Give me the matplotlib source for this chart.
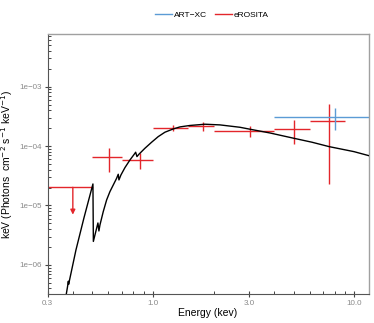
import numpy as np
import matplotlib
matplotlib.use("Agg")
import matplotlib.pyplot as plt
from matplotlib.lines import Line2D

plt.rcParams['font.family'] = ['Liberation Sans', 'DejaVu Sans']

# model curve
model_e = [0.371, 0.3765, 0.3800, 0.3812, 0.4145, 0.4542, 0.5034, 0.5058, 0.533, 0.539,
           0.5455, 0.5664, 0.5888, 0.6114, 0.6351, 0.6601, 0.6724, 0.6778, 0.6934, 0.7258,
           0.7687, 0.8074, 0.8206, 0.8328, 0.8519, 0.9125, 0.985, 1.062, 1.147, 1.261,
           1.362, 1.527, 1.813, 2.152, 2.705, 3.033, 3.813, 5.017, 6.165, 7.51, 9.97, 11.97]
model_f = [3.2e-7, 4.3e-7, 5.3e-7, 4.7e-7, 1.78e-6, 6.17e-6, 2.30e-5, 2.48e-6, 5.07e-6, 3.72e-6,
           4.70e-6, 7.87e-6, 1.24e-5, 1.71e-5, 2.21e-5, 2.87e-5, 3.35e-5, 2.69e-5, 3.26e-5, 4.33e-5,
           5.83e-5, 7.28e-5, 7.87e-5, 6.64e-5, 7.28e-5, 9.18e-5, 1.16e-4, 1.44e-4, 1.71e-4, 1.94e-4,
           2.10e-4, 2.22e-4, 2.33e-4, 2.27e-4, 2.07e-4, 1.92e-4, 1.66e-4, 1.35e-4, 1.16e-4, 9.77e-5,
           8.05e-5, 6.81e-5]

# eROSITA points
ero_e = [0.607, 0.862, 1.253, 1.766, 3.03, 5.02, 7.51]
ero_elo = [0.50, 0.70, 1.00, 1.50, 2.00, 4.00, 6.00]
ero_ehi = [0.70, 1.00, 1.50, 2.00, 4.00, 6.00, 9.00]
ero_f = [6.47e-5, 5.83e-5, 2.04e-4, 2.20e-4, 1.80e-4, 1.94e-4, 2.65e-4]
ero_flo = [3.7e-5, 4.07e-5, 1.80e-4, 1.82e-4, 1.44e-4, 1.07e-4, 2.27e-5]
ero_fhi = [9.2e-5, 7.65e-5, 2.26e-4, 2.52e-4, 2.15e-4, 2.75e-4, 5.06e-4]

# eROSITA upper limit
ul_e, ul_elo, ul_ehi = 0.4, 0.3, 0.5
ul_f, ul_tip = 2.02e-5, 7.0e-6

# ART-XC point
art_e, art_elo, art_ehi = [8.0], [4.0], [16.0]
art_f, art_flo, art_fhi = [3.09e-4], [1.85e-4], [4.43e-4]

xticks = [0.3, 1.0, 3.0, 10.0]
xlabels = ['0.3', '1.0', '3.0', '10.0']
xminor = [0.4, 0.5, 0.6, 0.7, 0.8, 0.9, 2, 4, 5, 6, 7, 8, 9]
yticks = [1e-6, 1e-5, 1e-4, 1e-3]
ylabels = ['1e\u221206', '1e\u221205', '1e\u221204', '1e\u221203']

red = '#e3262b'
blue = '#5b9bd5'
gray = '#8a8a8a'

fig = plt.figure(figsize=(3.74, 3.23), dpi=100)
ax = fig.add_axes([0.1275, 0.089, 0.8578, 0.8058])
ax.set_xscale('log')
ax.set_yscale('log')

ax.plot(model_e, model_f, color='black', lw=1.0, zorder=3)

e = np.array(ero_e)
f = np.array(ero_f)
ax.errorbar(e, f, xerr=[e - np.array(ero_elo), np.array(ero_ehi) - e],
            yerr=[f - np.array(ero_flo), np.array(ero_fhi) - f],
            fmt='none', ecolor=red, elinewidth=1.0, capsize=0, zorder=2)

a = np.array(art_e)
af = np.array(art_f)
ax.errorbar(a, af, xerr=[a - np.array(art_elo), np.array(art_ehi) - a],
            yerr=[af - np.array(art_flo), np.array(art_fhi) - af],
            fmt='none', ecolor=blue, elinewidth=1.0, capsize=0, zorder=2)

# upper limit
ax.plot([ul_elo, ul_ehi], [ul_f, ul_f], color=red, lw=1.0, zorder=2)
ax.annotate('', xy=(ul_e, ul_tip), xytext=(ul_e, ul_f),
            arrowprops=dict(arrowstyle='-|>', color=red, lw=1.0,
                            mutation_scale=7, shrinkA=0, shrinkB=0))

ax.set_xlim(0.3, 11.77)
ax.set_ylim(3.2e-7, 7.7e-3)

ax.set_xticks(xticks)
ax.set_xticklabels(xlabels)
ax.set_xticks(xminor, minor=True)
ax.xaxis.set_minor_formatter(matplotlib.ticker.NullFormatter())
ax.set_yticks(yticks)
ax.set_yticklabels(ylabels)
ax.yaxis.set_minor_locator(matplotlib.ticker.LogLocator(base=10, subs=np.arange(2, 10), numticks=20))
ax.yaxis.set_minor_formatter(matplotlib.ticker.NullFormatter())

ax.tick_params(which='major', direction='inout', length=4, width=0.8, color='#444444',
               labelsize=5.8, labelcolor=gray, pad=2)
ax.tick_params(which='minor', direction='in', length=2.2, width=0.7, color='#444444')

for s in ['top', 'right']:
    ax.spines[s].set_color('#a0a0a0')
    ax.spines[s].set_linewidth(1.0)
for s in ['left', 'bottom']:
    ax.spines[s].set_color('#555555')
    ax.spines[s].set_linewidth(0.8)

ax.set_xlabel('Energy (kev)', fontsize=7.5, labelpad=1)
ax.set_ylabel('keV (Photons  cm$^{-2}$ s$^{-1}$ keV$^{-1}$)', fontsize=7.5, labelpad=3)

handles = [Line2D([], [], color=blue, lw=1.0), Line2D([], [], color=red, lw=1.0)]
fig.legend(handles, ['ART\u2212XC', 'eROSITA'], loc='center', bbox_to_anchor=(0.567, 0.953),
           ncol=2, frameon=False, fontsize=6, handlelength=2.0, handletextpad=0.3,
           columnspacing=0.9)

fig.savefig('out.png', dpi=100)
